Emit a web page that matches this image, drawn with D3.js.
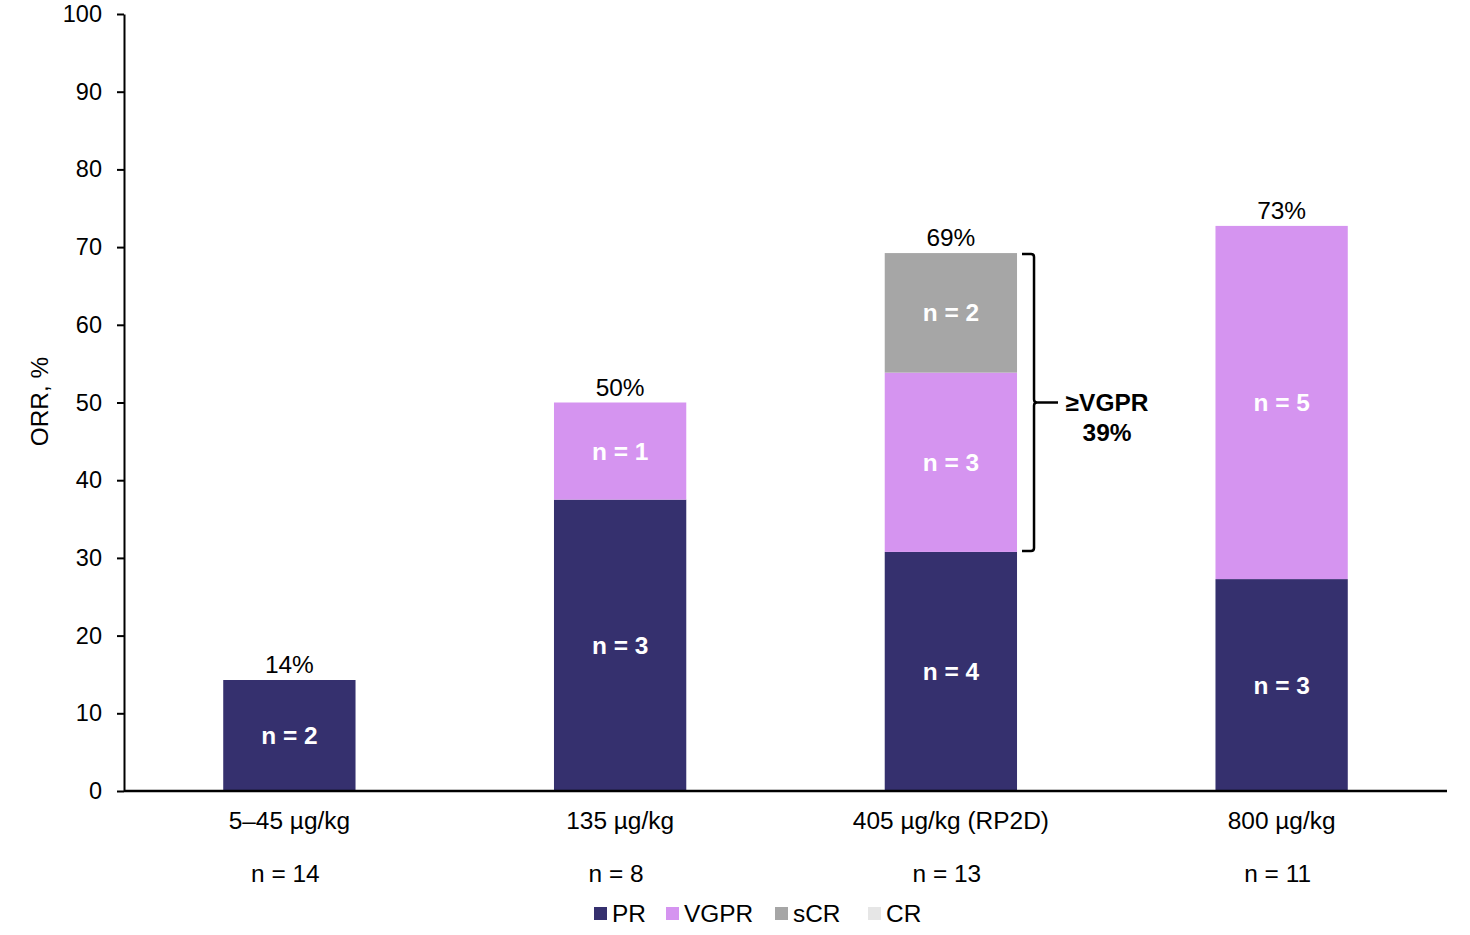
<!DOCTYPE html>
<html>
<head>
<meta charset="utf-8">
<script src="https://cdn.jsdelivr.net/npm/d3@7"></script>
<style>
  body { margin: 0; background: #fff; }
  svg { display: block; font-family: "Liberation Sans", Arial, sans-serif; }
</style>
</head>
<body>
<svg id="chart" width="1470" height="935"></svg>
<script>
// Dose cohorts and their sizes
const doses = ["5\u201345 \u00b5g/kg", "135 \u00b5g/kg", "405 \u00b5g/kg (RP2D)", "800 \u00b5g/kg"];
const cohortN = [14, 8, 13, 11];

// Responders per category in each cohort
const responseTypes = ["PR", "VGPR", "sCR", "CR"];
const prCount   = [2, 3, 4, 3];
const vgprCount = [0, 1, 3, 5];
const scrCount  = [0, 0, 2, 0];
const crCount   = [0, 0, 0, 0];

// ORR (%) shown above each bar
const orrLabels = ["14%", "50%", "69%", "73%"];

// Annotation for the RP2D cohort
const bracketCohort = "405 \u00b5g/kg (RP2D)";
const bracketLines = ["\u2265VGPR", "39%"];

const yTicks = [0, 10, 20, 30, 40, 50, 60, 70, 80, 90, 100];

const colors = { PR: "#35306e", VGPR: "#d594f0", sCR: "#a6a6a6", CR: "#e6e6e6" };

const counts = { PR: prCount, VGPR: vgprCount, sCR: scrCount, CR: crCount };

const svg = d3.select("#chart");
const margin = { left: 124, right: 23, top: 14, bottom: 144 };
const W = 1470, H = 935;
const FONT = "Liberation Sans, Arial, sans-serif";
const FS = 23.5;

// Widen glyphs slightly along the text direction
function widen(sel, k) {
  sel.each(function () {
    const w = this.getComputedTextLength();
    if (w > 0) {
      d3.select(this).attr("textLength", w * k).attr("lengthAdjust", "spacingAndGlyphs");
    }
  });
}

const x = d3.scaleBand().domain(doses).range([margin.left, W - margin.right]).paddingInner(0.6).paddingOuter(0.3);
const y = d3.scaleLinear().domain([0, 100]).range([H - margin.bottom, margin.top]);

// Stacked percentages
const rows = doses.map((d, i) => {
  const r = { dose: d };
  responseTypes.forEach(t => r[t] = counts[t][i] / cohortN[i] * 100);
  return r;
});
const series = d3.stack().keys(responseTypes)(rows);

const g = svg.append("g");
series.forEach(s => {
  s.forEach((seg, i) => {
    const h = seg[1] - seg[0];
    if (h <= 0) return;
    const key = s.key;
    g.append("rect")
      .attr("x", x(doses[i]))
      .attr("y", y(seg[1]))
      .attr("width", x.bandwidth())
      .attr("height", y(seg[0]) - y(seg[1]))
      .attr("fill", colors[key]);
    g.append("text")
      .attr("class", "txt")
      .attr("x", x(doses[i]) + x.bandwidth() / 2)
      .attr("y", y((seg[0] + seg[1]) / 2))
      .attr("dy", "0.36em")
      .attr("text-anchor", "middle")
      .attr("font-size", FS)
      .attr("font-weight", "bold")
      .attr("fill", "#fff")
      .text("n = " + counts[key][i]);
  });
});

// Totals above bars
rows.forEach((r, i) => {
  const total = d3.sum(responseTypes, t => r[t]);
  svg.append("text")
    .attr("class", "txt")
    .attr("x", x(doses[i]) + x.bandwidth() / 2)
    .attr("y", y(total) - 7)
    .attr("text-anchor", "middle")
    .attr("font-size", FS)
    .attr("fill", "#000")
    .text(orrLabels[i]);
});

// Y axis
const yAxis = d3.axisLeft(y).tickValues(yTicks).tickSize(7).tickSizeOuter(0);
const ya = svg.append("g").attr("transform", `translate(${margin.left},0)`).call(yAxis);
ya.select(".domain").attr("stroke", "#000").attr("stroke-width", 2);
ya.selectAll(".tick line").attr("stroke", "#000").attr("stroke-width", 2);
ya.selectAll(".tick text").attr("font-size", FS).attr("fill", "#000").attr("x", -22)
  .attr("font-family", FONT);

// X axis baseline (no ticks)
const xAxis = d3.axisBottom(x).tickSize(0).tickSizeOuter(0);
const xa = svg.append("g").attr("transform", `translate(0,${y(0)})`).call(xAxis);
xa.select(".domain").attr("stroke", "#000").attr("stroke-width", 2.5)
  .attr("d", `M${margin.left},0H${W - margin.right}`);
xa.selectAll(".tick text").attr("font-size", FS).attr("fill", "#000").attr("y", 21)
  .attr("font-family", FONT).attr("class", "txt");

// Cohort sizes under each dose
doses.forEach((d, i) => {
  svg.append("text")
    .attr("class", "txt")
    .attr("x", x(d) + x.bandwidth() / 2 - 4)
    .attr("y", y(0) + 91)
    .attr("text-anchor", "middle")
    .attr("font-size", FS)
    .attr("fill", "#000")
    .text("n = " + cohortN[i]);
});

// Y axis title
svg.append("text")
  .attr("class", "txt")
  .attr("transform", `translate(48,${y(50) - 1}) rotate(-90)`)
  .attr("text-anchor", "middle")
  .attr("font-size", FS)
  .attr("fill", "#000")
  .text("ORR, %");

// Bracket spanning the ≥VGPR responders of the RP2D cohort
const bi = doses.indexOf(bracketCohort);
const bTop = y(rows[bi].PR + rows[bi].VGPR + rows[bi].sCR + rows[bi].CR);
const bBot = y(rows[bi].PR);
const bx = x(doses[bi]) + x.bandwidth() + 17;
const bMid = (bTop + bBot) / 2;
svg.append("path")
  .attr("d", `M${bx - 12},${bTop + 1} H${bx - 3} Q${bx},${bTop + 1} ${bx},${bTop + 4} V${bMid - 3} Q${bx},${bMid} ${bx + 3},${bMid} H${bx + 24} M${bx + 3},${bMid} Q${bx},${bMid} ${bx},${bMid + 3} V${bBot - 4} Q${bx},${bBot - 1} ${bx - 3},${bBot - 1} H${bx - 12}`)
  .attr("fill", "none")
  .attr("stroke", "#000")
  .attr("stroke-width", 2.5);
bracketLines.forEach((t, i) => {
  svg.append("text")
    .attr("class", "txt")
    .attr("x", bx + 73).attr("y", bMid + 8 + i * 30)
    .attr("text-anchor", "middle").attr("font-size", FS).attr("font-weight", "bold")
    .text(t);
});

// Legend
const legendX = [594, 666, 775, 868];
const legend = svg.append("g");
responseTypes.forEach((t, i) => {
  legend.append("rect")
    .attr("x", legendX[i]).attr("y", 907).attr("width", 13).attr("height", 13)
    .attr("fill", colors[t]);
  legend.append("text")
    .attr("class", "txt")
    .attr("x", legendX[i] + 18).attr("y", 922)
    .attr("font-size", FS).attr("fill", "#000")
    .text(t);
});

widen(svg.selectAll("text.txt"), 1.04);
</script>
</body>
</html>
